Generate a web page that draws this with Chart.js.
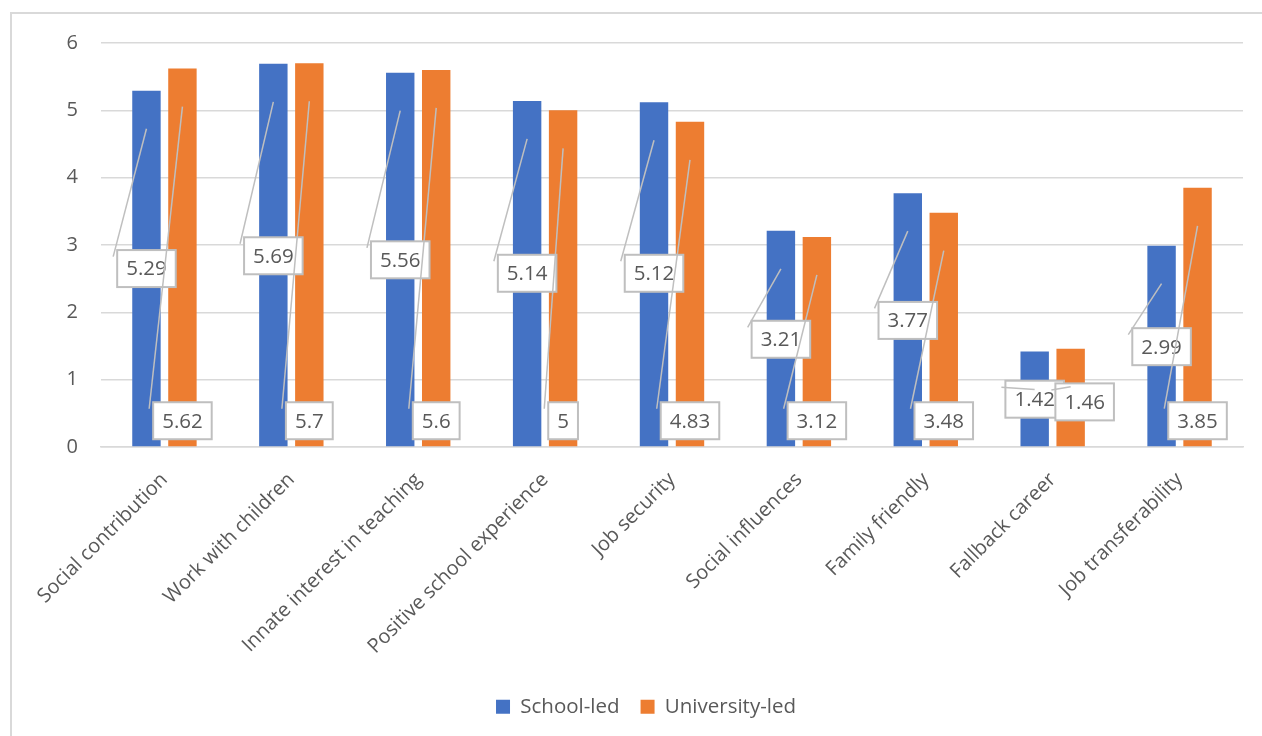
<!DOCTYPE html>
<html>
<head>
<meta charset="utf-8">
<title>Motivations for teaching by route</title>
<script src="https://cdn.jsdelivr.net/npm/chart.js@4/dist/chart.umd.min.js"></script>
<style>
  html, body { margin: 0; padding: 0; background: #fff; overflow: hidden; }
  #frame { position: absolute; left: 10px; top: 12px; width: 1400px; height: 900px; border: 2px solid #d9d9d9; }
  #wrap { position: absolute; left: 0; top: 0; width: 1262px; height: 736px; }
</style>
</head>
<body>
<div id="frame"></div>
<div id="wrap"><canvas id="chart"></canvas></div>
<script>
const categories = [
    'Social contribution',
    'Work with children',
    'Innate interest in teaching',
    'Positive school experience',
    'Job security',
    'Social influences',
    'Family friendly',
    'Fallback career',
    'Job transferability',
];
const schoolLed = [5.29, 5.69, 5.56, 5.14, 5.12, 3.21, 3.77, 1.42, 2.99];
const universityLed = [5.62, 5.7, 5.6, 5, 4.83, 3.12, 3.48, 1.46, 3.85];
const yTicks = [0, 1, 2, 3, 4, 5, 6];

// where each value box sits, in axis units (plus a sideways nudge in px)
const schoolLabelAt = [2.65, 2.84, 2.78, 2.58, 2.58, 1.6, 1.88, 0.71, 1.49];
const universityLabelAt = [0.39, 0.39, 0.39, 0.39, 0.39, 0.39, 0.39, 0.67, 0.39];
const universityLabelShift = [0, 0, 0, 0, 0, 0, 0, 14, 0];
const labelPlacement = [
    { at: schoolLabelAt, shift: null },
    { at: universityLabelAt, shift: universityLabelShift },
];

const FONT = '"Open Sans", "Noto Sans", sans-serif';
const GREY_TEXT = '#595959';

// value boxes with leader lines back to the bar
const calloutLabels = {
    id: 'calloutLabels',
    afterDatasetsDraw(chart, args, opts) {
        const { ctx } = chart;
        const y = chart.scales.y;
        const boxes = [];
        ctx.save();
        ctx.font = `${opts.fontSize}px ${FONT}`;
        chart.data.datasets.forEach((ds, di) => {
            const meta = chart.getDatasetMeta(di);
            const place = labelPlacement[di];
            meta.data.forEach((bar, i) => {
                const text = String(ds.data[i]);
                const w = ctx.measureText(text).width + opts.padX * 2;
                const cx = bar.x + (place.shift ? place.shift[i] : 0);
                const cy = y.getPixelForValue(place.at[i]);
                boxes.push({
                    text, w, cx, cy,
                    left: cx - w / 2,
                    top: cy - opts.boxHeight / 2,
                    ax: bar.x,
                    ay: bar.y + opts.anchorDrop,
                });
            });
        });

        boxes.forEach((b) => {
            ctx.fillStyle = '#ffffff';
            ctx.fillRect(b.left, b.top, b.w, opts.boxHeight);
            ctx.strokeStyle = opts.borderColor;
            ctx.lineWidth = 2;
            ctx.strokeRect(b.left, b.top, b.w, opts.boxHeight);
            ctx.fillStyle = GREY_TEXT;
            ctx.textAlign = 'center';
            ctx.textBaseline = 'middle';
            ctx.fillText(b.text, b.cx, b.cy + 1);
        });

        // leader lines go over the boxes
        ctx.strokeStyle = opts.borderColor;
        ctx.lineWidth = 1.5;
        boxes.forEach((b) => {
            ctx.beginPath();
            ctx.moveTo(b.left - 4, b.top + 6.5);
            ctx.lineTo(b.ax, b.ay);
            ctx.stroke();
        });
        ctx.restore();
    },
};

new Chart(document.getElementById('chart'), {
    type: 'bar',
    data: {
        labels: categories,
        datasets: [
            {
                label: 'School-led',
                data: schoolLed,
                backgroundColor: '#4472c4',
                categoryPercentage: 0.567,
                barPercentage: 0.79,
            },
            {
                label: 'University-led',
                data: universityLed,
                backgroundColor: '#ed7d31',
                categoryPercentage: 0.567,
                barPercentage: 0.79,
            },
        ],
    },
    options: {
        responsive: true,
        maintainAspectRatio: false,
        animation: false,
        layout: { padding: { top: 43, right: 19, bottom: 9, left: 49 } },
        scales: {
            x: {
                grid: { display: false },
                border: { color: '#d9d9d9', width: 1.5 },
                ticks: {
                    color: GREY_TEXT,
                    font: { family: FONT, size: 20 },
                    minRotation: 45,
                    maxRotation: 45,
                    padding: 13,
                },
                afterFit: (s) => { s.height = 228.5; },
            },
            y: {
                min: 0,
                max: 6,
                grid: { color: '#d9d9d9', lineWidth: 1.5, drawTicks: false },
                border: { display: false },
                ticks: {
                    color: GREY_TEXT,
                    font: { family: FONT, size: 20 },
                    padding: 23,
                },
                afterBuildTicks: (s) => { s.ticks = yTicks.map((v) => ({ value: v })); },
                afterFit: (s) => { s.width = 52; },
            },
        },
        plugins: {
            legend: {
                position: 'bottom',
                labels: {
                    color: GREY_TEXT,
                    font: { family: FONT, size: 20.5 },
                    boxWidth: 14,
                    boxHeight: 14,
                    padding: 21,
                },
            },
            tooltip: { enabled: false },
            calloutLabels: {
                fontSize: 20.5,
                padX: 9,
                boxHeight: 37,
                anchorDrop: 38,
                borderColor: '#bfbfbf',
            },
        },
    },
    plugins: [calloutLabels],
});
</script>
</body>
</html>
